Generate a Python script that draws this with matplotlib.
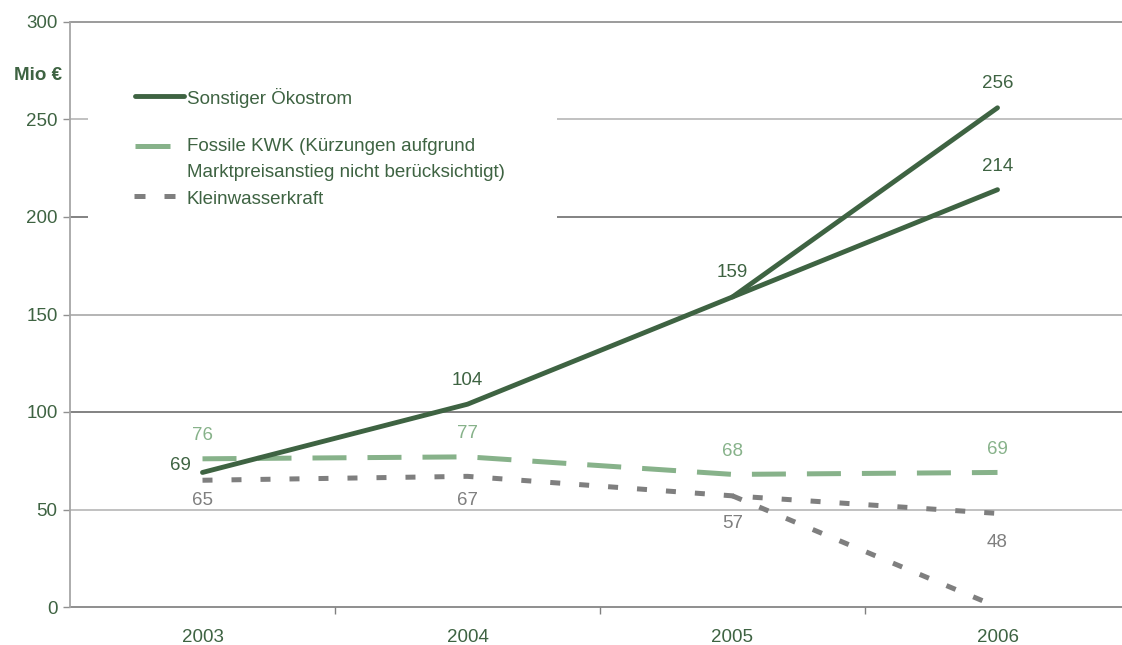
import matplotlib.pyplot as plt
import numpy as np
from matplotlib.patches import Rectangle

plt.rcParams["font.family"] = ["Liberation Sans", "DejaVu Sans"]

# ── data ───────────────────────────────────────────────────────────────────────
years           = ["2003", "2004", "2005", "2006"]
oekostrom       = [69, 104, 159, 256]
oekostrom_alt   = [np.nan, np.nan, 159, 214]
fossile_kwk     = [76, 77, 68, 69]
kleinwasser     = [65, 67, 57, 48]
kleinwasser_alt = [np.nan, np.nan, 57, 0]
y_ticks         = [0, 50, 100, 150, 200, 250, 300]

labels = dict(
    oeko="Sonstiger Ökostrom",
    fossil="Fossile KWK (Kürzungen aufgrund\nMarktpreisanstieg nicht berücksichtigt)",
    klein="Kleinwasserkraft",
)

# ── style ──────────────────────────────────────────────────────────────────────
C_DARK  = "#3e6342"
C_LIGHT = "#87b28a"
C_GREY  = "#7f7f7f"
FS      = 13.5

fig = plt.figure(figsize=(11.22, 6.45), dpi=100)
W, H = 1122, 645
ax = fig.add_axes([70 / W, 1 - 607 / H, 1060 / W, 585 / H])
x = np.arange(len(years))

# ── lines ──────────────────────────────────────────────────────────────────────
line_kw = dict(solid_capstyle="round", zorder=4)
ax.plot(x, oekostrom, color=C_DARK, lw=3.5, **line_kw)
ax.plot(x, oekostrom_alt, color=C_DARK, lw=3.5, **line_kw)
ax.plot(x, fossile_kwk, color=C_LIGHT, lw=3.6, dashes=(6.8, 4.2),
        dash_capstyle="butt", zorder=3)
ax.plot(x, kleinwasser, color=C_GREY, lw=3.6, dashes=(2.0, 3.8),
        dash_capstyle="butt", zorder=3)
ax.plot(x, kleinwasser_alt, color=C_GREY, lw=3.6, dashes=(2.0, 3.8),
        dash_capstyle="butt", zorder=3)

# ── data labels (offsets in px, converted to points) ───────────────────────────
def label(xi, val, color, dx, dy):
    ax.annotate(f"{val:g}", (xi, val), xytext=(dx * 0.72, -dy * 0.72),
                textcoords="offset points", ha="center", va="center",
                color=color, fontsize=FS, zorder=5)

label(0, oekostrom[0], C_DARK, -22, -7)
for i in (1, 2, 3):
    label(i, oekostrom[i], C_DARK, 0, -24)
label(3, oekostrom_alt[3], C_DARK, 0, -23)
for i in range(4):
    label(i, fossile_kwk[i], C_LIGHT, 0, -23)
for i, dy in zip(range(4), (20, 24, 28, 29)):
    label(i, kleinwasser[i], C_GREY, 0, dy)

# ── axes ───────────────────────────────────────────────────────────────────────
ax.set_xlim(-0.5, 3.5)
ax.set_ylim(0, 300)
ax.set_yticks(y_ticks)
ax.set_xticks(x)
ax.set_xticklabels(years)
ax.set_xticks(x[:-1] + 0.5, minor=True)
ax.tick_params(axis="x", which="major", length=0, pad=16, labelsize=FS,
               labelcolor=C_DARK)
ax.tick_params(axis="x", which="minor", length=5, width=1, color="#808080",
               direction="out")
ax.tick_params(axis="y", length=5, width=1, color="#909090", pad=4,
               labelsize=FS, labelcolor=C_DARK)

for s in ("top", "right", "bottom"):
    ax.spines[s].set_visible(False)
ax.spines["left"].set_color("#a6a6a6")
ax.spines["left"].set_linewidth(1.3)

grid_cols = ["#707070", "#b0b0b0", "#606060", "#a0a0a0",
             "#606060", "#b0b0b0", "#808080"]
for val, col in zip(y_ticks, grid_cols):
    ax.axhline(val, color=col, lw=1.1, zorder=1, clip_on=False)

# ── legend (drawn by hand to match spacing) ────────────────────────────────────
def fx(px):
    return (px - 70) / 1060


def fy(py):
    return (607 - py) / 585


ax.add_patch(Rectangle((fx(88), fy(232)), fx(557) - fx(88), fy(72) - fy(232),
                       transform=ax.transAxes, facecolor="white",
                       edgecolor="none", zorder=2))
tr = ax.transAxes
ax.plot([fx(135), fx(184)], [fy(96)] * 2, color=C_DARK, lw=3.5,
        solid_capstyle="round", transform=tr, zorder=3)
ax.plot([fx(135), fx(170)], [fy(146)] * 2, color=C_LIGHT, lw=3.6,
        solid_capstyle="butt", transform=tr, zorder=3)
ax.plot([fx(134), fx(175)], [fy(196)] * 2, color=C_GREY, lw=3.6,
        dashes=(2.2, 3.8), dash_capstyle="butt", transform=tr, zorder=3)
ax.text(fx(187), fy(98), labels["oeko"], transform=tr, color=C_DARK,
        fontsize=FS, va="center", zorder=3)
ax.text(fx(187), fy(138), labels["fossil"], transform=tr, color=C_DARK,
        fontsize=FS, va="top", linespacing=1.7, zorder=3)
ax.text(fx(187), fy(199), labels["klein"], transform=tr, color=C_DARK,
        fontsize=FS, va="center", zorder=3)

fig.text(38 / W, 1 - 75 / H, "Mio €", color=C_DARK, fontsize=13.5,
         fontweight="bold", ha="center", va="center")

fig.savefig("out.png", dpi=100)
